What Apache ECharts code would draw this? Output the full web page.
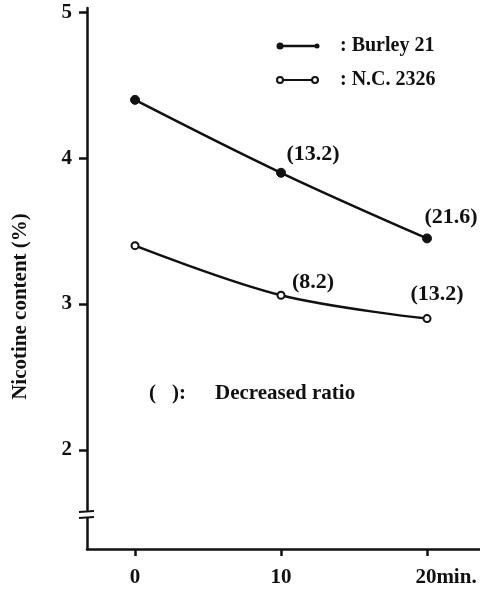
<!DOCTYPE html>
<html>
<head>
<meta charset="utf-8">
<script src="https://cdn.jsdelivr.net/npm/echarts@6/dist/echarts.min.js"></script>
<style>html,body{margin:0;padding:0;background:#fff}#c{width:480px;height:591px}</style>
</head>
<body>
<div id="c"></div>
<script>
const times = [0, 10, 20];
const burley = [4.40, 3.90, 3.45];
const nc = [3.40, 3.06, 2.90];
const burleyRatio = [null, '(13.2)', '(21.6)'];
const ncRatio = [null, '(8.2)', '(13.2)'];
const yTicks = [2, 3, 4, 5];
const xTicks = [0, 10, 20];
const seriesNames = ['Burley 21', 'N.C. 2326'];
const yTitle = 'Nicotine content (%)';
const noteText = 'Decreased ratio';

const FONT = '"Liberation Serif", "DejaVu Serif", serif';
const INK = '#111';

const burleyOffsets = [[0,0],[32,3],[24,0]];
const ncOffsets = [[0,0],[32,8],[10,-4]];

function mk(vals, labels, offs) {
  return vals.map((v, i) => ({
    value: [times[i], v],
    label: labels[i] ? {show: true, formatter: labels[i], position: 'top', offset: offs[i]} : {show: false}
  }));
}

const chart = echarts.init(document.getElementById('c'), null, {renderer: 'canvas'});
chart.setOption({
  animation: false,
  backgroundColor: '#fff',
  grid: {left: 87, right: 0, top: 8, bottom: 42, containLabel: false},
  xAxis: {
    type: 'value', min: -3.29, max: 23.63,
    axisLine: {show: true, onZero: false, lineStyle: {color: INK, width: 2.5}},
    axisTick: {show: true, customValues: xTicks, length: 7, inside: false, lineStyle: {color: INK, width: 2.5}},
    axisLabel: {
      show: true, customValues: xTicks, margin: 18,
      fontFamily: FONT, fontSize: 21, fontWeight: 'bold', color: INK,
      formatter: v => v === 20 ? '{s|}20{m|min.}' : String(v),
      rich: {s: {width: 38}, m: {fontFamily: FONT, fontSize: 21, fontWeight: 'bold', color: INK}}
    },
    splitLine: {show: false}
  },
  yAxis: {
    type: 'value', min: 1.32, max: 5.03,
    axisLine: {show: true, onZero: false, lineStyle: {color: INK, width: 2.5}},
    axisTick: {show: true, customValues: yTicks, length: 8, lineStyle: {color: INK, width: 2.5}},
    axisLabel: {show: true, customValues: yTicks, margin: 15, fontFamily: FONT, fontSize: 21, fontWeight: 'bold', color: INK},
    splitLine: {show: false},
    name: yTitle, nameLocation: 'middle', nameGap: 56, nameRotate: 90,
    nameTextStyle: {fontFamily: FONT, fontSize: 21, fontWeight: 'bold', color: INK, padding: [0, 0, 0, -56]}
  },
  series: [
    {
      name: seriesNames[0], type: 'line', smooth: 0.35,
      data: mk(burley, burleyRatio, burleyOffsets),
      symbol: 'circle', symbolSize: 9,
      lineStyle: {color: INK, width: 2.5},
      itemStyle: {color: INK, borderColor: INK, borderWidth: 1},
      label: {fontFamily: FONT, fontSize: 22, fontWeight: 'bold', color: INK},
      z: 3
    },
    {
      name: seriesNames[1], type: 'line', smooth: 0.35,
      data: mk(nc, ncRatio, ncOffsets),
      symbol: 'circle', symbolSize: 7, showSymbol: true,
      lineStyle: {color: INK, width: 2.5},
      itemStyle: {color: '#fff', borderColor: INK, borderWidth: 2},
      label: {fontFamily: FONT, fontSize: 22, fontWeight: 'bold', color: INK},
      z: 3
    }
  ],
  graphic: [
    // legend
    {type: 'line', shape: {x1: 280, y1: 46, x2: 317, y2: 46}, style: {stroke: INK, lineWidth: 2.5}},
    {type: 'circle', shape: {cx: 280, cy: 46, r: 3.5}, style: {fill: INK}},
    {type: 'circle', shape: {cx: 317, cy: 46, r: 2.5}, style: {fill: INK}},
    {type: 'text', left: 340, top: 36, style: {text: ': ' + seriesNames[0], font: 'bold 20px ' + FONT, fill: INK}},
    {type: 'line', shape: {x1: 280, y1: 80, x2: 315, y2: 80}, style: {stroke: INK, lineWidth: 2}},
    {type: 'circle', shape: {cx: 280, cy: 80, r: 3}, style: {fill: '#fff', stroke: INK, lineWidth: 2}, z: 10},
    {type: 'circle', shape: {cx: 315, cy: 80, r: 3}, style: {fill: '#fff', stroke: INK, lineWidth: 2}, z: 10},
    {type: 'text', left: 340, top: 70, style: {text: ': ' + seriesNames[1], font: 'bold 20px ' + FONT, fill: INK}},
    // note
    {type: 'text', left: 149, top: 383, style: {text: '(', font: 'bold 21px ' + FONT, fill: INK}},
    {type: 'text', left: 172, top: 383, style: {text: '):', font: 'bold 21px ' + FONT, fill: INK}},
    {type: 'text', left: 215, top: 383, style: {text: noteText, font: 'bold 21px ' + FONT, fill: INK}},
    // axis break
    {type: 'rect', shape: {x: 82, y: 512, width: 10, height: 5}, style: {fill: '#fff'}, z: 20},
    {type: 'line', shape: {x1: 79, y1: 512, x2: 94, y2: 511}, style: {stroke: INK, lineWidth: 2}, z: 21},
    {type: 'line', shape: {x1: 79, y1: 518, x2: 94, y2: 517}, style: {stroke: INK, lineWidth: 2}, z: 21}
  ]
});
</script>
</body>
</html>
